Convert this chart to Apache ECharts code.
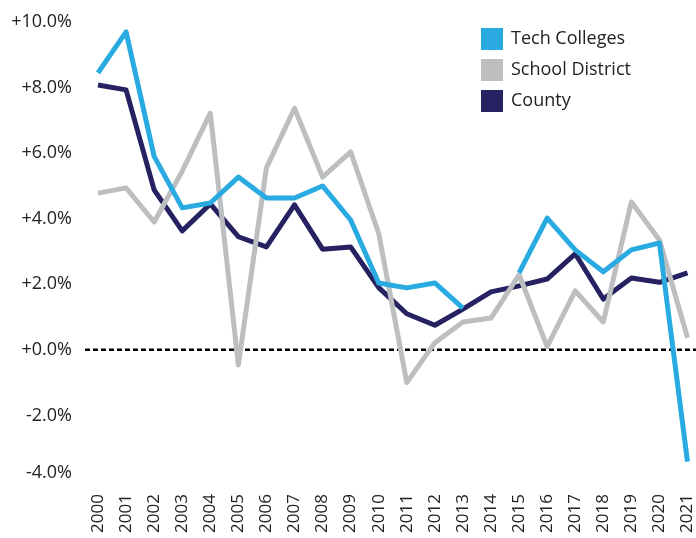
<!DOCTYPE html>
<html><head><meta charset="utf-8">
<script src="https://cdn.jsdelivr.net/npm/echarts@6/dist/echarts.min.js"></script>
<style>html,body{margin:0;padding:0;background:#fff}#c{width:696px;height:538px}</style>
</head><body><div id="c"></div>
<script>
const years = ['2000','2001','2002','2003','2004','2005','2006','2007','2008','2009','2010','2011','2012','2013','2014','2015','2016','2017','2018','2019','2020','2021'];
const techColleges = [8.45, 9.7, 5.9, 4.33, 4.48, 5.27, 4.63, 4.63, 5.0, 3.96, 2.04, 1.89, 2.04, 1.27, null, 2.35, 4.02, 3.05, 2.38, 3.05, 3.26, -3.41];
const schoolDistrict = [4.78, 4.94, 3.9, 5.45, 7.22, -0.46, 5.55, 7.37, 5.27, 6.04, 3.55, -1.0, 0.22, 0.85, 0.97, 2.29, 0.1, 1.8, 0.85, 4.51, 3.35, 0.37];
const county = [8.08, 7.93, 4.88, 3.63, 4.45, 3.45, 3.14, 4.42, 3.07, 3.14, 1.9, 1.1, 0.75, 1.24, 1.77, 1.95, 2.16, 2.93, 1.55, 2.19, 2.06, 2.35];
const zeroLine = [[0, 0], [1, 0]];

const FONT = '"Open Sans", "Noto Sans", sans-serif';
const chart = echarts.init(document.getElementById('c'), null, {renderer: 'canvas'});
chart.setOption({
  animation: false,
  backgroundColor: '#fff',
  textStyle: {fontFamily: FONT},
  legend: {
    orient: 'vertical', left: 476, top: 23,
    itemWidth: 22, itemHeight: 22, itemGap: 9, icon: 'rect',
    data: ['Tech Colleges', 'School District', 'County'],
    textStyle: {fontSize: 18, color: '#222', fontFamily: FONT, padding: [0, 0, 0, 3]}
  },
  grid: [
    {left: 98, right: 8, top: 22, bottom: 57},
    {left: 85, right: 0, top: 22, bottom: 57}
  ],
  xAxis: [
    {
      type: 'category', data: years, boundaryGap: false, gridIndex: 0,
      axisLine: {show: false}, axisTick: {show: false},
      axisLabel: {rotate: 90, fontSize: 17, color: '#222', margin: 13, interval: 0, fontFamily: FONT}
    },
    {type: 'value', gridIndex: 1, min: 0, max: 1, show: false}
  ],
  yAxis: [
    {
      type: 'value', gridIndex: 0, min: -4, max: 10, interval: 2,
      axisLine: {show: false}, axisTick: {show: false}, splitLine: {show: false},
      axisLabel: {
        fontSize: 18, color: '#222', margin: 26, fontFamily: FONT,
        formatter: v => {
          const s = (v >= 0 ? '+' : '') + v.toFixed(1) + '%';
          return v === -4 ? '{lo|' + s + '}' : s;
        },
        rich: {lo: {fontSize: 18, color: '#222', fontFamily: FONT, padding: [0, 0, 17, 0]}}
      }
    },
    {type: 'value', gridIndex: 1, min: -4, max: 10, show: false}
  ],
  series: [
    {
      name: 'zero', type: 'line', xAxisIndex: 1, yAxisIndex: 1, data: zeroLine,
      symbol: 'none', silent: true, z: 1,
      lineStyle: {color: '#000', width: 2.5, type: [5, 3]}
    },
    {
      name: 'County', type: 'line', data: county, symbol: 'none', z: 2,
      itemStyle: {color: '#262262'},
      lineStyle: {color: '#262262', width: 5, join: 'round'}
    },
    {
      name: 'School District', type: 'line', data: schoolDistrict, symbol: 'none', z: 3,
      itemStyle: {color: '#BCBEC0'},
      lineStyle: {color: '#BCBEC0', width: 5, join: 'round'}
    },
    {
      name: 'Tech Colleges', type: 'line', data: techColleges, symbol: 'none', z: 4,
      connectNulls: false,
      itemStyle: {color: '#29ABE2'},
      lineStyle: {color: '#29ABE2', width: 5, join: 'round'}
    }
  ]
});
</script>
</body></html>
